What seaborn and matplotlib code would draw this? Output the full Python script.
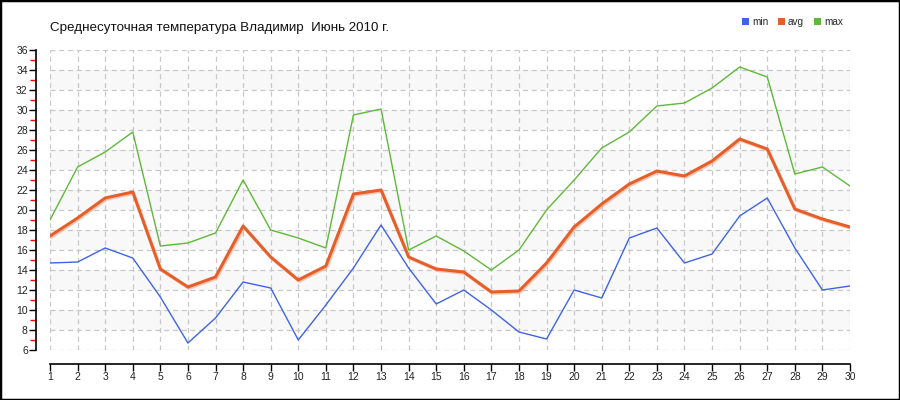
import matplotlib
matplotlib.use("Agg")
import matplotlib.pyplot as plt
import matplotlib.patheffects as pe
from matplotlib.patches import Rectangle, Patch
import seaborn as sns
import pandas as pd

days = list(range(1, 31))
t_min = [14.7, 14.8, 16.2, 15.2, 11.3, 6.7, 9.2, 12.8, 12.2, 7.0,
         10.5, 14.2, 18.5, 14.2, 10.6, 12.0, 10.0, 7.8, 7.1, 12.0,
         11.2, 17.2, 18.2, 14.7, 15.6, 19.4, 21.2, 16.2, 12.0, 12.4]
t_avg = [17.4, 19.2, 21.2, 21.8, 14.1, 12.3, 13.3, 18.4, 15.3, 13.0,
         14.4, 21.6, 22.0, 15.3, 14.1, 13.8, 11.8, 11.9, 14.7, 18.3,
         20.6, 22.6, 23.9, 23.4, 24.9, 27.1, 26.1, 20.1, 19.1, 18.3]
t_max = [19.0, 24.3, 25.8, 27.8, 16.4, 16.7, 17.7, 23.0, 18.0, 17.2,
         16.2, 29.5, 30.1, 16.0, 17.4, 15.9, 14.0, 16.0, 20.0, 23.0,
         26.2, 27.8, 30.4, 30.7, 32.2, 34.3, 33.3, 23.6, 24.3, 22.4]
series_names = ["min", "avg", "max"]
series_colors = ["#3f63e6", "#e65f2b", "#5fb83a"]
title = "Среднесуточная температура Владимир  Июнь 2010 г."
yticks = list(range(6, 37, 2))
yminor = list(range(7, 36, 2))

df = pd.DataFrame({"day": days, "min": t_min, "avg": t_avg, "max": t_max})

sns.set_style("white")
plt.rcParams["font.family"] = ["Liberation Sans", "DejaVu Sans"]

fig = plt.figure(figsize=(9, 4), dpi=100)
ax = fig.add_axes([50 / 900, 50 / 400, 800 / 900, 300 / 400])
ax.set_xlim(1, 30)
ax.set_ylim(6, 36)

# alternating bands
for lo in range(8, 36, 4):
    ax.axhspan(lo, lo + 2, color="#f8f8f8", zorder=0, lw=0)

ax.set_xticks(days)
ax.set_yticks(yticks)
ax.set_yticks(yminor, minor=True)
ax.grid(True, which="major", color="#c8c8c8", linestyle=(0, (4, 3)), linewidth=0.9, zorder=1)

sns.lineplot(data=df, x="day", y="min", ax=ax, color=series_colors[0], linewidth=1.0, zorder=3)
sns.lineplot(data=df, x="day", y="max", ax=ax, color=series_colors[2], linewidth=1.0, zorder=3)
l = sns.lineplot(data=df, x="day", y="avg", ax=ax, color=series_colors[1], linewidth=2.2, zorder=4)
l.lines[-1].set_path_effects([
    pe.SimpleLineShadow(offset=(0.8, -1.0), shadow_color="#f2a888", alpha=0.6),
    pe.Normal(),
])

ax.set_xlabel("")
ax.set_ylabel("")

for s in ["top", "right"]:
    ax.spines[s].set_visible(False)
for s in ["left", "bottom"]:
    ax.spines[s].set_position(("outward", 10))
    ax.spines[s].set_color("black")
    ax.spines[s].set_linewidth(1.2)

ax.tick_params(axis="y", which="major", direction="out", length=5, width=1, color="black",
               labelsize=7.5, pad=1, left=True)
ax.tick_params(axis="y", which="minor", direction="out", length=4, width=1, color="red", left=True)
ax.tick_params(axis="x", which="major", direction="out", length=5, width=1, color="black",
               labelsize=7.5, pad=1, bottom=True)
for lbl in ax.get_xticklabels() + ax.get_yticklabels():
    lbl.set_color("#222222")

fig.text(50 / 900, 1 - 28 / 400, title, fontsize=9.6, color="#111111", va="center", ha="left")

handles = [Patch(facecolor=c, edgecolor="none") for c in series_colors]
leg = fig.legend(handles, series_names, loc="center right", bbox_to_anchor=(848 / 900, 1 - 22 / 400),
                 ncol=3, frameon=False, fontsize=7.2, handlelength=0.7, handleheight=0.7,
                 handletextpad=0.3, columnspacing=1.0, borderpad=0)

fig.patches.append(Rectangle((0, 0), 1, 1, transform=fig.transFigure, fill=False,
                             edgecolor="black", linewidth=2.5, zorder=10))

fig.savefig("out.png", dpi=100)
